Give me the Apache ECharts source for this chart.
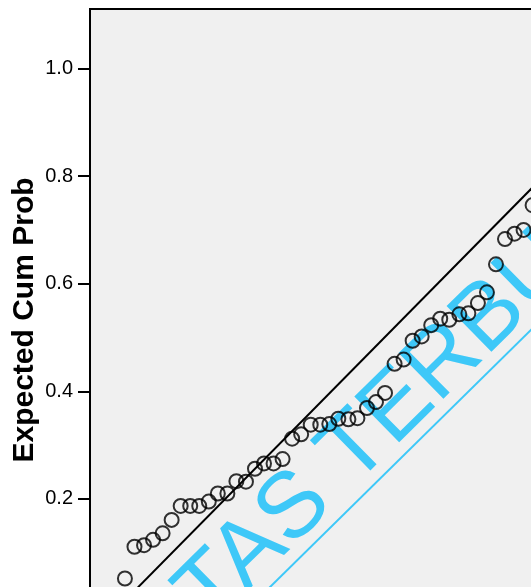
<!DOCTYPE html>
<html>
<head>
<meta charset="utf-8">
<script src="https://cdn.jsdelivr.net/npm/echarts@6/dist/echarts.min.js"></script>
<style>
html,body{margin:0;padding:0;background:#fff;overflow:hidden;}
#c{width:531px;height:587px;}
</style>
</head>
<body>
<div id="c"></div>
<script>
// Observed cumulative probability (x) and expected cumulative probability (y)
const obsCum = [0.011, 0.029, 0.047, 0.064, 0.082, 0.099, 0.116, 0.134, 0.151, 0.169,
  0.186, 0.204, 0.221, 0.239, 0.256, 0.273, 0.291, 0.308, 0.326, 0.343,
  0.361, 0.379, 0.396, 0.413, 0.432, 0.449, 0.467, 0.484, 0.501, 0.519,
  0.536, 0.553, 0.570, 0.588, 0.605, 0.622, 0.641, 0.658, 0.676, 0.693,
  0.710, 0.727, 0.745, 0.762, 0.779];
const expCum = [0.052, 0.111, 0.114, 0.124, 0.136, 0.161, 0.187, 0.187, 0.187, 0.195,
  0.210, 0.210, 0.233, 0.232, 0.256, 0.266, 0.266, 0.274, 0.312, 0.320,
  0.338, 0.338, 0.339, 0.349, 0.348, 0.350, 0.369, 0.380, 0.397, 0.451,
  0.459, 0.494, 0.502, 0.523, 0.535, 0.533, 0.543, 0.545, 0.564, 0.584,
  0.636, 0.683, 0.693, 0.700, 0.746];
const refLine = [[0, 0], [1, 1]];
const yTicks = [0, 0.2, 0.4, 0.6, 0.8, 1.0];
const yTitle = 'Expected Cum Prob';
const watermark = 'UNIVERSITAS TERBUKA';

const points = obsCum.map((x, i) => [x, expCum[i]]);
const FONT = "'Liberation Sans', Arial, sans-serif";
const ang = 44.5 * Math.PI / 180;

const chart = echarts.init(document.getElementById('c'), null, {renderer: 'canvas'});
chart.setOption({
  animation: false,
  backgroundColor: '#ffffff',
  grid: {
    left: 90, top: 9, width: 589, height: 657,
    outerBoundsMode: 'none', containLabel: false,
    show: true, backgroundColor: '#f0f0f0', borderColor: '#000', borderWidth: 2
  },
  xAxis: {
    type: 'value', min: -0.0548, max: 1.0548,
    axisLine: {show: false, onZero: false}, axisTick: {show: false}, axisLabel: {show: false},
    splitLine: {show: false}
  },
  yAxis: {
    type: 'value', min: -0.1106, max: 1.1106,
    axisLine: {show: true, onZero: false, lineStyle: {color: '#000', width: 2}},
    axisTick: {show: true, length: 12, customValues: yTicks, lineStyle: {color: '#000', width: 2}},
    axisLabel: {
      show: true, customValues: yTicks, margin: 17, color: '#000',
      fontSize: 20, fontFamily: FONT,
      formatter: v => Number(v).toFixed(1)
    },
    splitLine: {show: false}
  },
  graphic: [
    {
      type: 'text', z: 1, x: 264, y: 539, rotation: ang,
      style: {text: watermark, fill: '#3ec8f8', font: "normal 93px " + FONT,
        align: 'center', verticalAlign: 'middle'}
    },
    {
      type: 'line', z: 1,
      shape: {x1: 200, y1: 656, x2: 600, y2: 262},
      style: {stroke: '#3ec8f8', lineWidth: 2}
    },
    {
      type: 'text', z: 5, x: 25, y: 320, rotation: Math.PI / 2,
      style: {text: yTitle, fill: '#000', font: "bold 30px " + FONT,
        align: 'center', verticalAlign: 'middle'}
    }
  ],
  series: [
    {
      type: 'line', data: refLine, symbol: 'none', z: 2,
      lineStyle: {color: '#000', width: 2}, silent: true
    },
    {
      type: 'scatter', data: points, symbol: 'circle', symbolSize: 14, z: 3,
      itemStyle: {color: 'rgba(0,0,0,0)', borderColor: '#000', borderWidth: 2}
    }
  ]
});
</script>
</body>
</html>
